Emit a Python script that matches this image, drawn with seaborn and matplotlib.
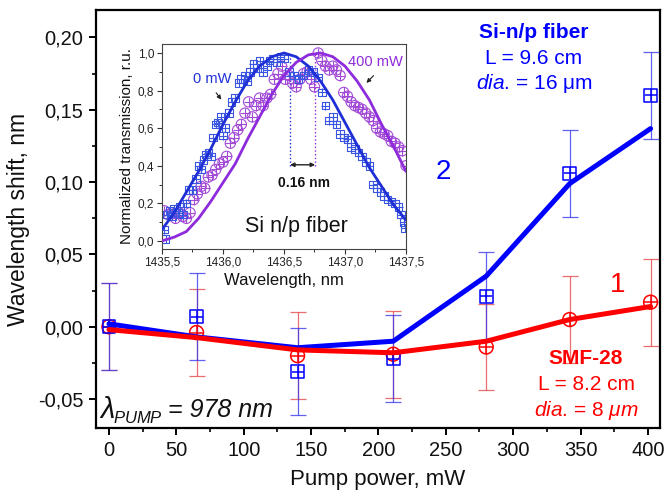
import matplotlib
matplotlib.use("Agg")
import matplotlib.pyplot as plt
import seaborn as sns
import pandas as pd
from matplotlib.ticker import MultipleLocator, FixedLocator, FixedFormatter

# ---------------- main data ----------------
power = [0, 65, 140, 211, 280, 342, 402]
si_shift = [0.000, 0.007, -0.031, -0.022, 0.021, 0.106, 0.160]
si_err = [0.030, 0.030, 0.030, 0.030, 0.031, 0.030, 0.030]
smf_shift = [0.000, -0.004, -0.020, -0.019, -0.014, 0.005, 0.017]
smf_err = [0.030, 0.030, 0.030, 0.030, 0.030, 0.030, 0.030]
si_fit = [0.002, -0.007, -0.0145, -0.010, 0.035, 0.099, 0.137]
smf_fit = [-0.002, -0.0075, -0.016, -0.018, -0.010, 0.005, 0.014]

x_ticks = [0, 50, 100, 150, 200, 250, 300, 350, 400]
x_tick_labels = ["0", "50", "100", "150", "200", "250", "300", "350", "400"]
y_ticks = [-0.05, 0.00, 0.05, 0.10, 0.15, 0.20]
y_tick_labels = ["-0,05", "0,00", "0,05", "0,10", "0,15", "0,20"]

# ---------------- inset data ----------------
wl_fit = [1435.5, 1435.6, 1435.7, 1435.8, 1435.9, 1436.0, 1436.1, 1436.2, 1436.3, 1436.4,
          1436.5, 1436.6, 1436.7, 1436.8, 1436.9, 1437.0, 1437.1, 1437.2, 1437.3, 1437.4, 1437.5]
fit_0mw = [0.06, 0.15, 0.26, 0.37, 0.49, 0.62, 0.74, 0.85, 0.93, 0.98,
           1.00, 0.98, 0.93, 0.85, 0.75, 0.63, 0.51, 0.39, 0.29, 0.19, 0.11]
fit_400mw = [0.00, 0.02, 0.05, 0.12, 0.21, 0.31, 0.41, 0.54, 0.66, 0.78,
             0.88, 0.95, 0.99, 1.00, 0.98, 0.93, 0.85, 0.75, 0.62, 0.50, 0.37]

wl_0mw = [1435.52, 1435.53, 1435.54, 1435.56, 1435.58, 1435.60, 1435.63, 1435.65, 1435.67, 1435.70,
          1435.72, 1435.75, 1435.78, 1435.80, 1435.82, 1435.84, 1435.86, 1435.88, 1435.90, 1435.92,
          1435.94, 1435.96, 1435.98, 1436.00, 1436.02, 1436.05, 1436.07, 1436.10, 1436.13, 1436.15,
          1436.18, 1436.20, 1436.22, 1436.25, 1436.28, 1436.30, 1436.33, 1436.36, 1436.38, 1436.41,
          1436.44, 1436.47, 1436.50, 1436.54, 1436.58, 1436.62, 1436.66, 1436.70, 1436.74, 1436.78,
          1436.81, 1436.84, 1436.87, 1436.90, 1436.93, 1436.96, 1436.99, 1437.02, 1437.05, 1437.08,
          1437.11, 1437.14, 1437.17, 1437.20, 1437.23, 1437.26, 1437.29, 1437.32, 1437.35, 1437.38,
          1437.41, 1437.44, 1437.46, 1437.48, 1437.49]
tr_0mw = [0.06, 0.01, 0.14, 0.16, 0.13, 0.17, 0.15, 0.18, 0.14, 0.20,
          0.27, 0.27, 0.33, 0.40, 0.38, 0.43, 0.46, 0.47, 0.45, 0.55,
          0.62, 0.63, 0.66, 0.56, 0.60, 0.68, 0.74, 0.76, 0.84, 0.86,
          0.88, 0.85, 0.90, 0.94, 0.92, 0.96, 0.90, 0.93, 0.96, 0.97,
          0.95, 0.98, 0.97, 0.90, 0.88, 0.86, 0.88, 0.91, 0.90, 0.87,
          0.79, 0.72, 0.64, 0.66, 0.62, 0.57, 0.55, 0.54, 0.50, 0.49,
          0.47, 0.45, 0.42, 0.40, 0.30, 0.28, 0.26, 0.24, 0.22, 0.21,
          0.20, 0.18, 0.14, 0.10, 0.07]

wl_400mw = [1435.52, 1435.55, 1435.58, 1435.61, 1435.64, 1435.67, 1435.70, 1435.73, 1435.76, 1435.79,
            1435.82, 1435.85, 1435.88, 1435.91, 1435.94, 1435.97, 1436.00, 1436.03, 1436.06, 1436.09,
            1436.12, 1436.15, 1436.18, 1436.21, 1436.24, 1436.27, 1436.30, 1436.33, 1436.36, 1436.39,
            1436.42, 1436.45, 1436.48, 1436.51, 1436.54, 1436.57, 1436.60, 1436.63, 1436.66, 1436.69,
            1436.72, 1436.75, 1436.78, 1436.81, 1436.84, 1436.87, 1436.90, 1436.93, 1436.96, 1436.99,
            1437.02, 1437.05, 1437.08, 1437.11, 1437.14, 1437.17, 1437.20, 1437.23, 1437.26, 1437.29,
            1437.32, 1437.35, 1437.38, 1437.41, 1437.44, 1437.47, 1437.50]
tr_400mw = [0.16, 0.14, 0.15, 0.12, 0.15, 0.13, 0.12, 0.15, 0.22, 0.25,
            0.29, 0.28, 0.34, 0.35, 0.38, 0.41, 0.42, 0.45, 0.52, 0.55,
            0.59, 0.62, 0.68, 0.74, 0.66, 0.72, 0.76, 0.72, 0.76, 0.78,
            0.86, 0.89, 0.93, 0.86, 0.88, 0.84, 0.82, 0.86, 0.89, 0.90,
            0.86, 0.82, 1.00, 0.96, 0.93, 0.91, 0.93, 0.91, 0.88, 0.79,
            0.77, 0.74, 0.72, 0.71, 0.70, 0.68, 0.66, 0.64, 0.60, 0.58,
            0.57, 0.56, 0.53, 0.52, 0.50, 0.48, 0.40]

inset_x_ticks = [1435.5, 1436.0, 1436.5, 1437.0, 1437.5]
inset_x_labels = ["1435,5", "1436,0", "1436,5", "1437,0", "1437,5"]
inset_y_ticks = [0.0, 0.2, 0.4, 0.6, 0.8, 1.0]
inset_y_labels = ["0,0", "0,2", "0,4", "0,6", "0,8", "1,0"]

# ---------------- style ----------------
sns.set_theme(style="ticks")
plt.rcParams["font.family"] = ["Liberation Sans", "DejaVu Sans"]
plt.rcParams["mathtext.fontset"] = "custom"
plt.rcParams["mathtext.rm"] = "Liberation Sans"
plt.rcParams["mathtext.it"] = "Liberation Sans:italic"
plt.rcParams["mathtext.bf"] = "Liberation Sans:bold"

BLUE = "#0000ff"
RED = "#ff0000"
IN_BLUE = "#1f2fd6"
IN_PURPLE = "#8e2bdc"
IN_PURPLE_PT = "#a24ad6"

fig = plt.figure(figsize=(6.65, 4.94), dpi=100)
ax = fig.add_axes([0.1444, 0.1336, 0.8481, 0.8462])

main_df = pd.DataFrame({"power": power, "si": si_shift, "smf": smf_shift,
                        "si_fit": si_fit, "smf_fit": smf_fit})

# error bars
ax.errorbar(power, smf_shift, yerr=smf_err, fmt="none", ecolor="#e8484a", elinewidth=0.9,
            capsize=5.5, capthick=0.9, alpha=0.8, zorder=1)
ax.errorbar(power, si_shift, yerr=si_err, fmt="none", ecolor="#3a3af0", elinewidth=0.9,
            capsize=5.5, capthick=0.9, alpha=0.8, zorder=1)

# markers
sns.scatterplot(data=main_df, x="power", y="smf", marker="o", s=100, facecolor="none",
                edgecolor=RED, linewidth=1.1, ax=ax, zorder=3)
sns.scatterplot(data=main_df, x="power", y="smf", marker="+", s=100, color=RED,
                linewidth=1.1, ax=ax, zorder=3)
sns.scatterplot(data=main_df, x="power", y="si", marker="s", s=85, facecolor="none",
                edgecolor=BLUE, linewidth=1.1, ax=ax, zorder=3)
sns.scatterplot(data=main_df, x="power", y="si", marker="+", s=85, color=BLUE,
                linewidth=1.1, ax=ax, zorder=3)

# fit lines
sns.lineplot(data=main_df, x="power", y="si_fit", color=BLUE, linewidth=3.6, ax=ax, zorder=4)
sns.lineplot(data=main_df, x="power", y="smf_fit", color=RED, linewidth=3.6, ax=ax, zorder=4)

ax.set_xlim(-9.6, 409)
ax.set_ylim(-0.070, 0.219)
ax.xaxis.set_major_locator(FixedLocator(x_ticks))
ax.xaxis.set_major_formatter(FixedFormatter(x_tick_labels))
ax.yaxis.set_major_locator(FixedLocator(y_ticks))
ax.yaxis.set_major_formatter(FixedFormatter(y_tick_labels))
ax.xaxis.set_minor_locator(MultipleLocator(25))
ax.yaxis.set_minor_locator(MultipleLocator(0.025))
ax.tick_params(axis="both", which="major", direction="out", length=5, width=1.4,
               labelsize=14.5, color="black", labelcolor="#111111", pad=4)
ax.tick_params(axis="both", which="minor", direction="out", length=3, width=1.2, color="black")
for sp in ax.spines.values():
    sp.set_visible(True)
    sp.set_linewidth(1.6)
    sp.set_color("black")
ax.set_xlabel("Pump power, mW", fontsize=16, color="#111111", labelpad=7)
ax.set_ylabel("Wavelength shift, nm", fontsize=16.5, color="#111111", labelpad=6)


def fx(px):
    return (px - 96) / (660 - 96)


def fy(py):
    return (428 - py) / (428 - 10)


ax.text(fx(534), fy(33), "Si-n/p fiber", transform=ax.transAxes, ha="center", va="center",
        fontsize=15, fontweight="bold", color=BLUE)
ax.text(fx(534), fy(59), "L = 9.6 cm", transform=ax.transAxes, ha="center", va="center",
        fontsize=15, color=BLUE)
ax.text(fx(534), fy(84), r"$\mathit{dia}$. = 16 μm", transform=ax.transAxes, ha="center",
        va="center", fontsize=15, color=BLUE)
ax.text(fx(443), fy(172), "2", transform=ax.transAxes, ha="center", va="center",
        fontsize=20, color=BLUE)
ax.text(fx(618), fy(285), "1", transform=ax.transAxes, ha="center", va="center",
        fontsize=20, color=RED)
ax.text(fx(586), fy(359), "SMF-28", transform=ax.transAxes, ha="center", va="center",
        fontsize=15, fontweight="bold", color=RED)
ax.text(fx(586), fy(385), "L = 8.2 cm", transform=ax.transAxes, ha="center", va="center",
        fontsize=15, color=RED)
ax.text(fx(586), fy(410), r"$\mathit{dia}$. = 8 $\mu m$", transform=ax.transAxes, ha="center",
        va="center", fontsize=15, color=RED)
ax.text(fx(99), fy(410), r"$\lambda$", transform=ax.transAxes, ha="left",
        va="center", fontsize=21, fontstyle="italic", color="#111111")
ax.text(fx(113), fy(418), r"$PUMP$", transform=ax.transAxes, ha="left",
        va="center", fontsize=12, fontstyle="italic", color="#111111")
ax.text(fx(168), fy(410), "= 978 nm", transform=ax.transAxes, ha="left",
        va="center", fontsize=18, fontstyle="italic", color="#111111")

# ---------------- inset ----------------
ins = fig.add_axes([0.2436, 0.496, 0.3669, 0.415])
in_fit = pd.DataFrame({"wl": wl_fit, "f0": fit_0mw, "f400": fit_400mw})
in_0 = pd.DataFrame({"wl": wl_0mw, "t": tr_0mw})
in_400 = pd.DataFrame({"wl": wl_400mw, "t": tr_400mw})

sns.scatterplot(data=in_400, x="wl", y="t", marker="o", s=55, facecolor="none",
                edgecolor=IN_PURPLE_PT, linewidth=0.8, ax=ins, zorder=2)
sns.scatterplot(data=in_400, x="wl", y="t", marker="+", s=55, color=IN_PURPLE_PT,
                linewidth=0.8, ax=ins, zorder=2)
sns.scatterplot(data=in_0, x="wl", y="t", marker="s", s=30, facecolor="none",
                edgecolor="#3a55e0", linewidth=0.8, ax=ins, zorder=2)
sns.scatterplot(data=in_0, x="wl", y="t", marker="+", s=30, color="#3a55e0",
                linewidth=0.8, ax=ins, zorder=2)
sns.lineplot(data=in_fit, x="wl", y="f0", color=IN_BLUE, linewidth=2.0, ax=ins, zorder=3)
sns.lineplot(data=in_fit, x="wl", y="f400", color=IN_PURPLE, linewidth=2.0, ax=ins, zorder=3)

ins.plot([1436.55, 1436.55], [0.40, 1.0], linestyle=":", color=IN_BLUE, linewidth=1.0, zorder=1)
ins.plot([1436.755, 1436.755], [0.40, 1.0], linestyle=":", color=IN_PURPLE, linewidth=1.0, zorder=1)
ins.annotate("", xy=(1436.55, 0.405), xytext=(1436.755, 0.405),
             arrowprops=dict(arrowstyle="<|-|>", color="#222222", lw=1.0, mutation_scale=6,
                             shrinkA=0, shrinkB=0))
ins.text(1436.66, 0.31, "0.16 nm", ha="center", va="center", fontsize=10, fontweight="bold",
         color="#111111")
ins.text(1435.91, 0.86, "0 mW", ha="center", va="center", fontsize=10.5, color=IN_BLUE)
ins.annotate("", xy=(1436.0, 0.74), xytext=(1435.93, 0.80),
             arrowprops=dict(arrowstyle="-|>", color="#222222", lw=0.8, mutation_scale=6))
ins.text(1437.25, 0.95, "400 mW", ha="center", va="center", fontsize=10.5, color=IN_PURPLE)
ins.annotate("", xy=(1437.16, 0.83), xytext=(1437.25, 0.89),
             arrowprops=dict(arrowstyle="-|>", color="#222222", lw=0.8, mutation_scale=6))
ins.text(1436.6, 0.075, "Si n/p fiber", ha="center", va="center", fontsize=15.5, color="#111111")

ins.set_xlim(1435.5, 1437.5)
ins.set_ylim(-0.043, 1.048)
ins.xaxis.set_major_locator(FixedLocator(inset_x_ticks))
ins.xaxis.set_major_formatter(FixedFormatter(inset_x_labels))
ins.yaxis.set_major_locator(FixedLocator(inset_y_ticks))
ins.yaxis.set_major_formatter(FixedFormatter(inset_y_labels))
ins.xaxis.set_minor_locator(MultipleLocator(0.25))
ins.yaxis.set_minor_locator(MultipleLocator(0.1))
ins.tick_params(axis="both", which="major", direction="out", length=3.5, width=0.8,
                labelsize=8.5, color="#333333", labelcolor="#222222", pad=2)
ins.tick_params(axis="both", which="minor", direction="out", length=2, width=0.7, color="#333333")
for sp in ins.spines.values():
    sp.set_visible(True)
    sp.set_linewidth(0.8)
    sp.set_color("#444444")
ins.set_xlabel("Wavelength, nm", fontsize=12, color="#111111", labelpad=3)
ins.set_ylabel("Normalized transmission, r.u.", fontsize=11, color="#111111", labelpad=3)
ins.set_facecolor("white")

fig.savefig("out.png", dpi=100, facecolor="white")
